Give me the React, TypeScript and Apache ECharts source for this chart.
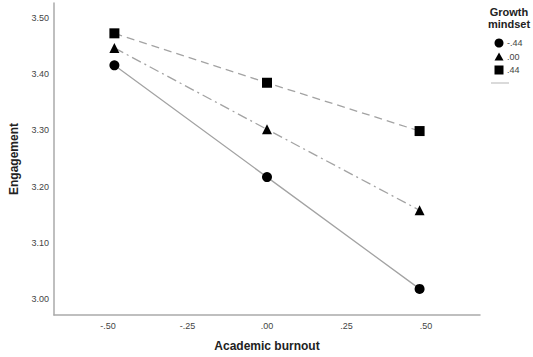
import React, { useEffect, useRef } from "react";
import * as echarts from "echarts";

const burnoutX = [-0.48, 0, 0.48];
const lowMindset = [3.416, 3.217, 3.018];
const midMindset = [3.447, 3.302, 3.158];
const highMindset = [3.473, 3.385, 3.299];
const xTicks = [-0.5, -0.25, 0, 0.25, 0.5];
const yTicks = [3.0, 3.1, 3.2, 3.3, 3.4, 3.5];
const legendLabels = ["-.44", ".00", ".44"];

const fmtX = (v: number) => {
  const s = Math.abs(v).toFixed(2).replace(/^0/, "");
  return v < 0 ? "-" + s : s;
};

export default function App() {
  const ref = useRef<HTMLDivElement>(null);
  useEffect(() => {
    if (!ref.current) return;
    const chart = echarts.init(ref.current, null, { renderer: "svg" });
    const lineColor = "#a3a3a3";
    const font = "Liberation Sans, Arial, sans-serif";
    const mk = (ys: number[]) => burnoutX.map((x, i) => [x, ys[i]]);
    const legendX = 499;
    const legendY = [43, 57, 70];
    chart.setOption({
      animation: false,
      textStyle: { fontFamily: font },
      grid: { left: 52, top: 3, right: 53, bottom: 42 },
      xAxis: {
        type: "value",
        min: -0.67,
        max: 0.67,
        name: "Academic burnout",
        nameLocation: "middle",
        nameGap: 25,
        nameTextStyle: { fontWeight: "bold", fontSize: 12, color: "#222", fontFamily: font },
        axisLine: { onZero: false, lineStyle: { color: "#aaaaaa", width: 1.5 } },
        axisTick: { show: false },
        splitLine: { show: false },
        axisLabel: {
          customValues: xTicks,
          formatter: (v: number) => fmtX(v),
          fontSize: 9,
          color: "#444",
          margin: 6,
        },
      },
      yAxis: {
        type: "value",
        min: 2.9715,
        max: 3.527,
        name: "Engagement",
        nameLocation: "middle",
        nameGap: 34,
        nameTextStyle: { fontWeight: "bold", fontSize: 12, color: "#222", fontFamily: font },
        axisLine: { show: true, onZero: false, lineStyle: { color: "#aaaaaa", width: 1.5 } },
        axisTick: { show: false },
        splitLine: { show: false },
        axisLabel: {
          customValues: yTicks,
          formatter: (v: number) => v.toFixed(2),
          fontSize: 9,
          color: "#444",
          margin: 5,
        },
      },
      series: [
        {
          type: "line",
          data: mk(lowMindset),
          symbol: "circle",
          symbolSize: 10,
          itemStyle: { color: "#000" },
          lineStyle: { color: lineColor, width: 1.3, type: "solid" },
        },
        {
          type: "line",
          data: mk(midMindset),
          symbol: "triangle",
          symbolSize: 10,
          itemStyle: { color: "#000" },
          lineStyle: { color: lineColor, width: 1.3, type: [10, 4, 2, 4] },
        },
        {
          type: "line",
          data: mk(highMindset),
          symbol: "rect",
          symbolSize: 10,
          itemStyle: { color: "#000" },
          lineStyle: { color: lineColor, width: 1.3, type: [8, 5] },
        },
      ],
      graphic: [
        {
          type: "text",
          x: 509,
          y: 6,
          style: {
            text: "Growth\nmindset",
            font: "bold 11px " + font,
            fill: "#222",
            align: "center",
            lineHeight: 12,
          },
        },
        { type: "circle", shape: { cx: legendX, cy: legendY[0], r: 4.5 }, style: { fill: "#000" } },
        {
          type: "polygon",
          shape: { points: [[legendX, legendY[1] - 4.5], [legendX - 4.5, legendY[1] + 3.5], [legendX + 4.5, legendY[1] + 3.5]] },
          style: { fill: "#000" },
        },
        { type: "rect", shape: { x: legendX - 4.5, y: legendY[2] - 4.5, width: 9, height: 9 }, style: { fill: "#000" } },
        ...legendLabels.map((t, i) => ({
          type: "text",
          x: 507,
          y: legendY[i],
          style: { text: t, font: "9px " + font, fill: "#444", verticalAlign: "middle" },
        })),
        { type: "line", shape: { x1: 491, y1: 83, x2: 509, y2: 83 }, style: { stroke: "#b5b5b5", lineWidth: 1 } },
      ],
    });
    return () => chart.dispose();
  }, []);
  return <div ref={ref} style={{ position: "absolute", left: 0, top: 0, width: 533, height: 357 }} />;
}
